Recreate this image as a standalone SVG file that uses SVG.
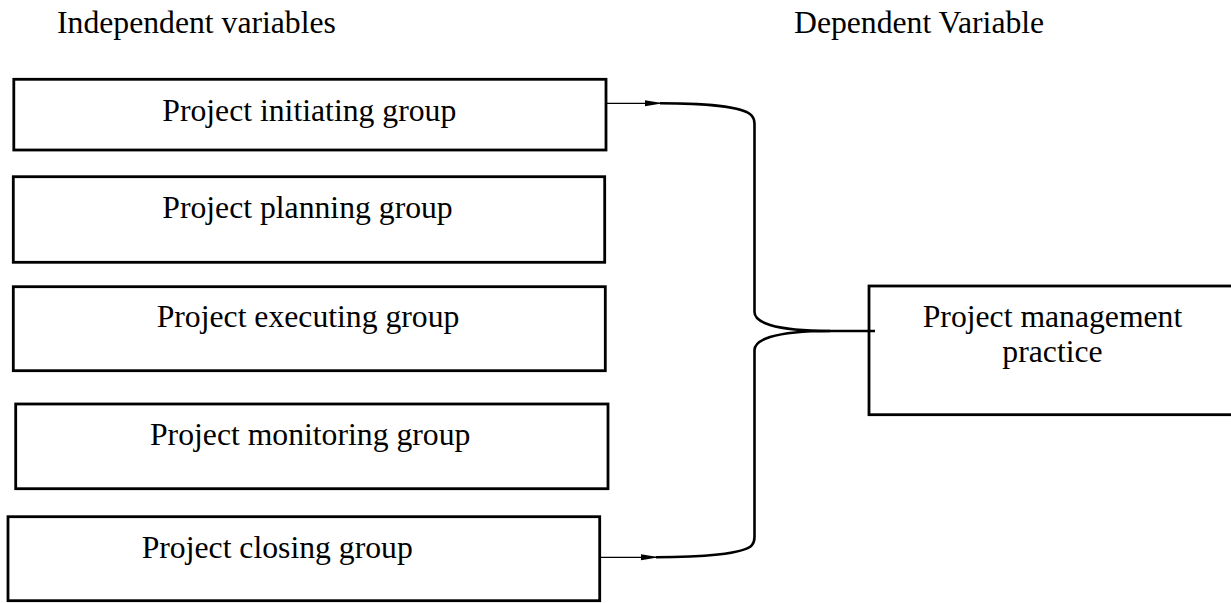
<svg xmlns="http://www.w3.org/2000/svg" width="1231" height="603" viewBox="0 0 1231 603">
<style>
text{font-family:"Liberation Serif","Times New Roman",serif;font-size:31.7px;fill:#000}
.box{fill:#fff;stroke:#000;stroke-width:2.8}
.thin{fill:none;stroke:#000;stroke-width:1.2}
.thick{fill:none;stroke:#000;stroke-width:2.6}
</style>
<defs>
<marker id="ah" markerWidth="18" markerHeight="8" refX="18" refY="4" orient="auto" markerUnits="userSpaceOnUse">
<path d="M0,1 L18,4 L0,7 Z" fill="#000"/>
</marker>
</defs>
<rect width="1231" height="603" fill="#fff"/>
<text x="57" y="33.3">Independent variables</text>
<text x="794" y="33.3">Dependent Variable</text>
<g id="n1"><rect class="box" x="13.8" y="79.3" width="592.2" height="70.7"/><text x="162.3" y="120.7">Project initiating group</text></g>
<g id="n2"><rect class="box" x="13.3" y="176.7" width="591.4" height="85.6"/><text x="162.3" y="218.3">Project planning group</text></g>
<g id="n3"><rect class="box" x="13.3" y="286.7" width="592" height="84"/><text x="156.7" y="326.7">Project executing group</text></g>
<g id="n4"><rect class="box" x="15.7" y="404" width="592.3" height="84.7"/><text x="150" y="445">Project monitoring group</text></g>
<g id="n5"><rect class="box" x="8" y="516.7" width="591.7" height="84"/><text x="141.7" y="558.3">Project closing group</text></g>
<g id="n6"><rect class="box" x="869" y="286" width="370" height="128.7"/><text x="1052.5" y="326.7" text-anchor="middle">Project management</text><text x="1052.5" y="361.7" text-anchor="middle">practice</text></g>
<g id="connectors">
<path class="thin" d="M607,103.3 L663,103.3" marker-end="url(#ah)"/>
<path class="thick" d="M660,103.3 C700,103.3 745,106 752,116 Q754.5,119 754.5,124 L754.5,312 Q754.5,320 770,325 Q790,331 830,331 L875,331"/>
<path class="thin" d="M601,557.3 L659,557.3" marker-end="url(#ah)"/>
<path class="thick" d="M656,557.3 C700,557.3 745,554 752,545 Q754.5,542 754.5,537 L754.5,350 Q754.5,342 770,337 Q790,331 830,331"/>
</g>
</svg>
